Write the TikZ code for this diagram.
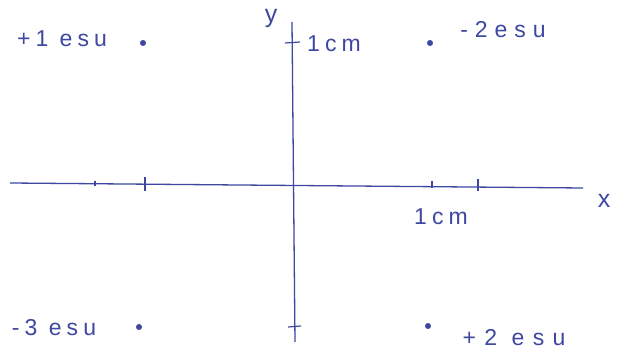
\documentclass[tikz,border=0pt]{standalone}
\usepackage{fontspec}
\newfontfamily\hand[LetterSpace=22]{Liberation Sans}
\newfontfamily\handwide[LetterSpace=36]{Liberation Sans}
\newfontfamily\handmid[LetterSpace=30]{Liberation Sans}
\definecolor{ink}{RGB}{62,72,160}
\begin{document}
\begin{tikzpicture}[x=1pt,y=-1pt,
  axis/.style={draw=ink,line width=1.3pt},
  tickmark/.style={draw=ink,line width=1.2pt},
  lbl/.style={text=ink,font=\hand\fontsize{23}{23}\selectfont,inner sep=0pt},
  charge/.style={circle,fill=ink,draw=ink,inner sep=0pt,minimum size=5.5pt}]
\useasboundingbox (0,0) rectangle (621,352);
% axes
\coordinate (xl) at (10,183);
\coordinate (xr) at (583,188);
\coordinate (yt) at (292,22);
\coordinate (yb) at (295,342);
\draw[axis] (xl) -- (xr);
\draw[axis] (yt) -- (yb);
% ticks on x axis
\draw[tickmark] (95,181) -- (95,186);
\draw[tickmark] (145,177) -- (145,191);
\draw[tickmark] (432,181) -- (432,188);
\draw[tickmark] (478,179) -- (478,191);
% ticks on y axis
\draw[tickmark] (285,43) -- (300,42);
\draw[tickmark] (288,327) -- (301,326);
% axis labels
\node[lbl,font=\hand\fontsize{25}{25}\selectfont] (X) at (604,201) {x};
\node[lbl,font=\hand\fontsize{25}{25}\selectfont] (Y) at (271,18) {y};
\node[lbl] (ycm) at (334,44) {1cm};
\node[lbl] (xcm) at (441,217) {1cm};
% charges
\node[charge] (q1) at (143,43) {};
\node[charge] (q2) at (430,43) {};
\node[charge] (q3) at (139,327) {};
\node[charge] (q4) at (428,326) {};
\node[lbl] (l1) at (62,39) {+1 esu};
\node[lbl,font=\handmid\fontsize{23}{23}\selectfont] (l2) at (503,30) {-2esu};
\node[lbl] (l3) at (54,328) {-3 esu};
\node[lbl,font=\handwide\fontsize{23}{23}\selectfont] (l4) at (514,338) {+2 esu};
\end{tikzpicture}
\end{document}
